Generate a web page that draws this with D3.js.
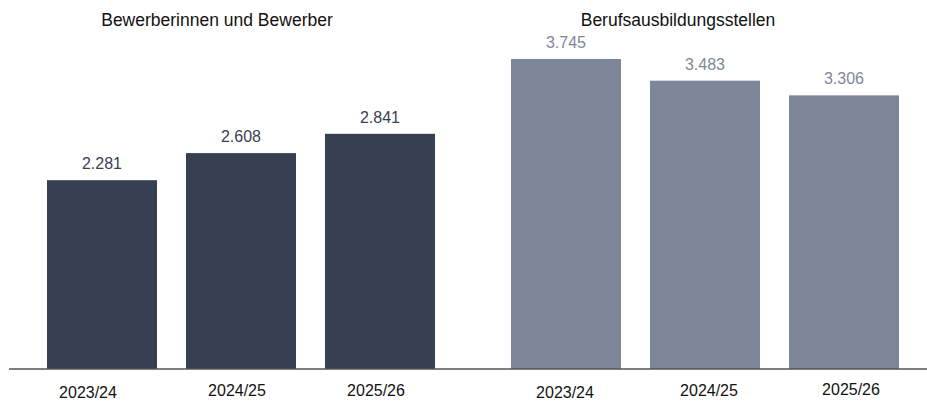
<!DOCTYPE html>
<html>
<head>
<meta charset="utf-8">
<script src="https://cdn.jsdelivr.net/npm/d3@7"></script>
<style>
  body { margin: 0; background: #fff; }
  text { font-family: "Liberation Sans", Arial, sans-serif; }
</style>
</head>
<body>
<div id="chart"></div>
<script>
// data
var groups = ['Bewerberinnen und Bewerber', 'Berufsausbildungsstellen'];
var years = ['2023/24', '2024/25', '2025/26'];
var bewerber = [2281, 2608, 2841];
var stellen = [3745, 3483, 3306];
var colors = ['#373f53', '#7e8799'];

// small nudges of the year labels as seen in the original
var labelDx = [[-14, -4, -4], [-1, 4, 7]];
var labelY = [[398, 396, 396], [398, 396, 395]];

var width = 927, height = 401;
var baseline = 369;

var svg = d3.select('#chart')
  .append('svg')
    .attr('width', width)
    .attr('height', height);

var y = d3.scaleLinear()
  .domain([0, 3745])
  .range([baseline, 59]);

// each group: bands of 139 step, bar 110
var xInner = d3.scaleBand()
  .domain(years)
  .range([0, 388])
  .paddingInner(29 / 139)
  .paddingOuter(0);

var series = [bewerber, stellen];
var groupStart = [47, 511];
var titleX = [170, 167];

groups.forEach(function(g, gi) {
  var gEl = svg.append('g')
    .attr('transform', 'translate(' + groupStart[gi] + ',0)');

  var vals = series[gi];

  gEl.selectAll('rect')
    .data(vals)
    .enter().append('rect')
    .attr('x', function(d, i) { return xInner(years[i]); })
    .attr('y', function(d) { return y(d); })
    .attr('width', xInner.bandwidth())
    .attr('height', function(d) { return baseline - y(d); })
    .attr('fill', colors[gi]);

  gEl.selectAll('.val')
    .data(vals)
    .enter().append('text')
    .attr('class', 'val')
    .attr('x', function(d, i) { return xInner(years[i]) + xInner.bandwidth() / 2; })
    .attr('y', function(d) { return y(d) - 11; })
    .attr('text-anchor', 'middle')
    .attr('font-size', 16)
    .attr('fill', colors[gi])
    .text(function(d) { return d3.format(',')(d).replace(',', '.'); });

  gEl.selectAll('.yr')
    .data(years)
    .enter().append('text')
    .attr('class', 'yr')
    .attr('x', function(d, i) { return xInner(d) + xInner.bandwidth() / 2 + labelDx[gi][i]; })
    .attr('y', function(d, i) { return labelY[gi][i]; })
    .attr('text-anchor', 'middle')
    .attr('font-size', 16)
    .attr('fill', '#111')
    .text(function(d) { return d; });

  gEl.append('text')
    .attr('x', titleX[gi])
    .attr('y', 26)
    .attr('text-anchor', 'middle')
    .attr('font-size', 17.5)
    .attr('fill', '#111')
    .text(g);
});

svg.append('line')
  .attr('x1', 9)
  .attr('x2', width)
  .attr('y1', baseline)
  .attr('y2', baseline)
  .attr('stroke', '#555')
  .attr('stroke-width', 1.5);
</script>
</body>
</html>
